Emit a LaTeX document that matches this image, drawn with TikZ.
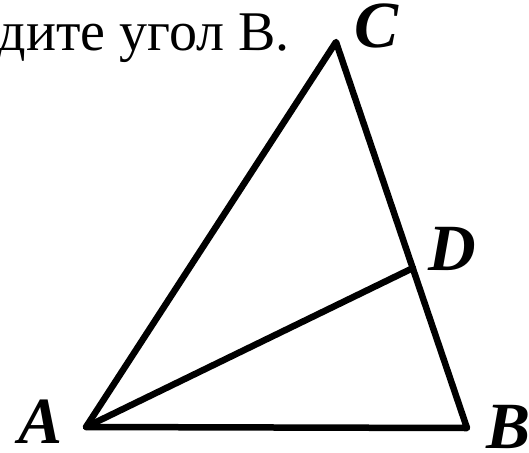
\documentclass[tikz,border=0pt]{standalone}
\usepackage{fontspec}
\setmainfont{Liberation Serif}
\usetikzlibrary{positioning}

\tikzset{
  seite/.style={line width=6.5pt, line join=round, line cap=round},
  punkt/.style={font=\fontsize{66}{70}\selectfont\bfseries\itshape, inner sep=0pt}
}

\begin{document}
\begin{tikzpicture}[x=1pt,y=-1pt]
			\useasboundingbox (0,0) rectangle (529,452);
			% Aufgabentext
			\node[anchor=base east, inner sep=0pt, font=\fontsize{56}{62}\selectfont] (text) at (290,50) {дите угол В.};
			
			% Eckpunkte
			\coordinate (A) at (86,427);
			\coordinate (B) at (467,428);
			\coordinate (C) at (336,42);
			\coordinate (D) at (413,268);
			
			% Dreieck und Strecke AD
			\draw[seite] (A) -- (B) -- (C) -- cycle;
			\draw[seite] (A) -- (D);
			
			% Beschriftung
			\node[punkt, anchor=base west] (lA) at (18,443) {A};
			\node[punkt, anchor=base west] (lB) at (486,448) {B};
			\node[punkt, anchor=base west] (lC) at (354,48) {C};
			\node[punkt, anchor=base west] (lD) at (428,270) {D};
		\end{tikzpicture}
\end{document}
